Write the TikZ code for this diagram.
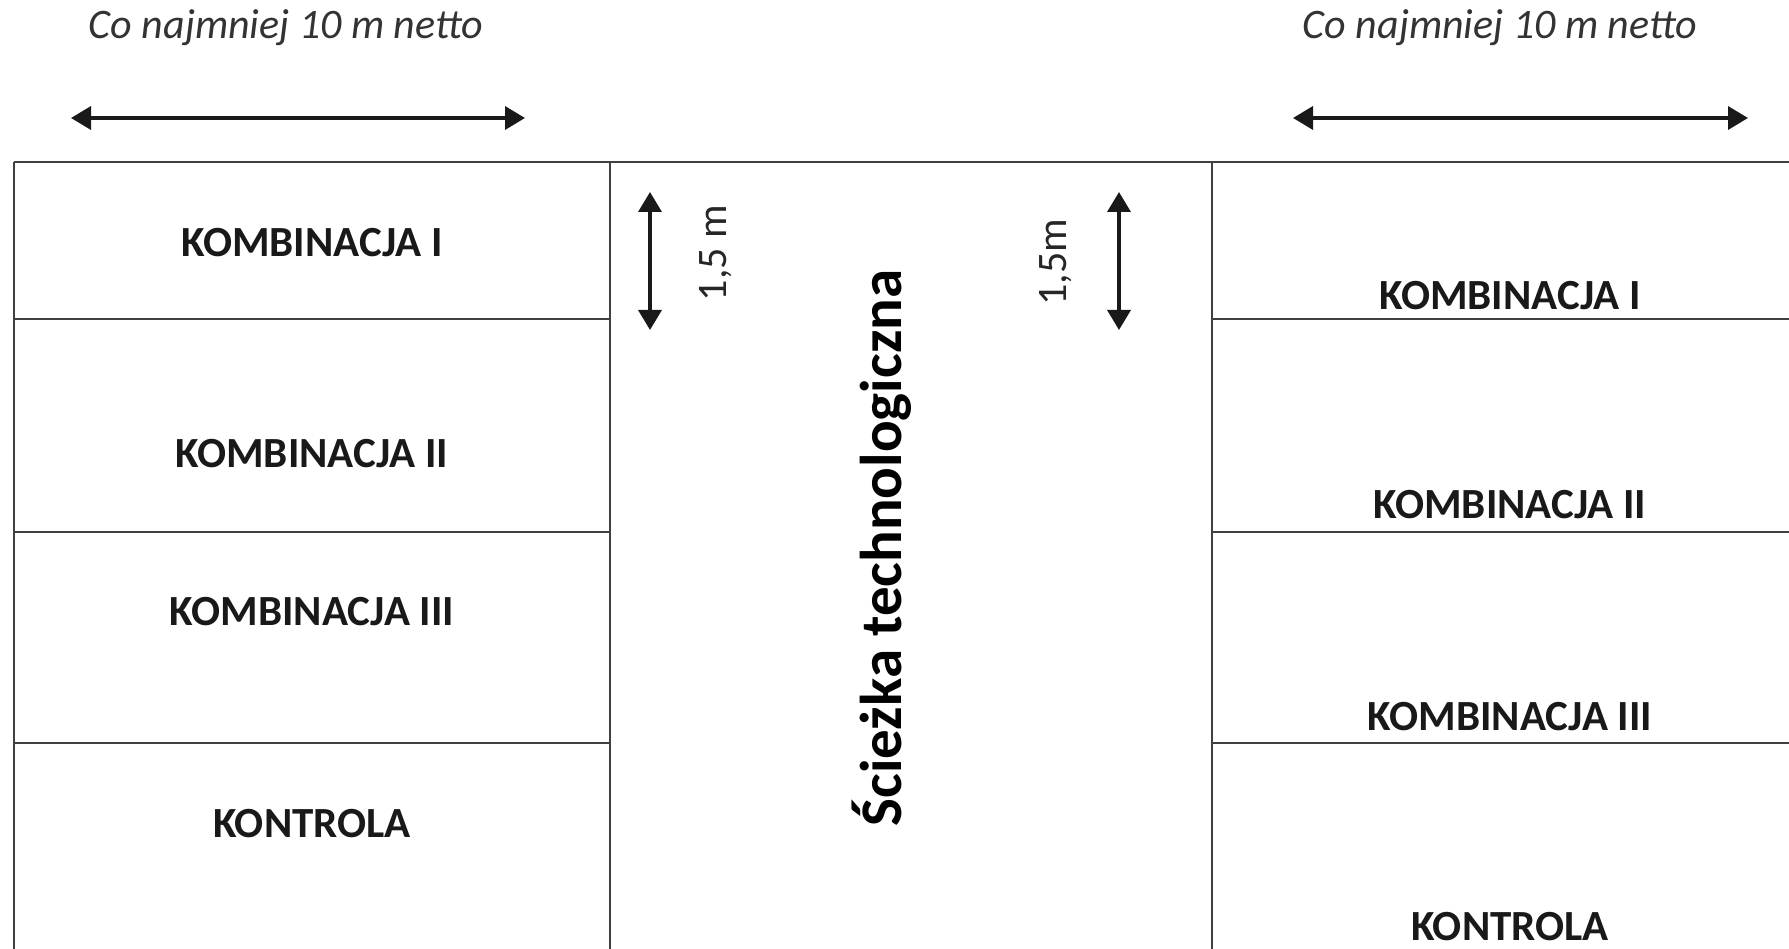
\documentclass[tikz,border=0pt]{standalone}
\usepackage{fontspec}
\setmainfont{Carlito}
\usetikzlibrary{arrows.meta}
\begin{document}
\begin{tikzpicture}[x=1pt,y=-1pt,
  grid/.style={line width=2pt, draw=black!75},
  dimarrow/.style={line width=3.5pt, draw=black!90, {Triangle[length=20pt,width=23pt]}-{Triangle[length=20pt,width=23pt]}},
  lab/.style={font=\fontsize{43}{48}\selectfont\bfseries, text=black!90, inner sep=0pt},
  note/.style={font=\fontsize{42}{48}\selectfont\itshape, text=black!80, inner sep=0pt},
  dimlab/.style={font=\fontsize{42}{48}\selectfont, text=black!85, inner sep=0pt, rotate=90},
  path/.style={font=\fontsize{59}{66}\selectfont\bfseries, text=black, inner sep=0pt, rotate=90}]
\useasboundingbox[fill=white] (0,0) rectangle (1789,949);
% grid
\draw[grid] (14,162) -- (1789,162);
\draw[grid] (14,162) -- (14,949);
\draw[grid] (610,162) -- (610,949);
\draw[grid] (1212,162) -- (1212,949);
\foreach \yy in {319,532,743} {
  \draw[grid] (14,\yy) -- (610,\yy);
  \draw[grid] (1212,\yy) -- (1789,\yy);
}
% top notes and arrows
\node[note] (nl) at (286,28) {Co najmniej 10 m netto};
\node[note] (nr) at (1500,28) {Co najmniej 10 m netto};
\coordinate (al1) at (71,118); \coordinate (al2) at (525,118);
\coordinate (ar1) at (1293,118); \coordinate (ar2) at (1748,118);
\draw[dimarrow] (al1) -- (al2);
\draw[dimarrow] (ar1) -- (ar2);
% vertical arrows
\coordinate (vl1) at (650,192); \coordinate (vl2) at (650,330);
\coordinate (vr1) at (1119,192); \coordinate (vr2) at (1119,330);
\draw[dimarrow] (vl1) -- (vl2);
\draw[dimarrow] (vr1) -- (vr2);
\node[dimlab] (dl) at (716,253) {1,5 m};
\node[dimlab] (dr) at (1056,262) {1,5m};
% path label
\node[path] (sc) at (882,548) {Ścieżka technologiczna};
% left labels
\node[lab] (l1) at (312,243) {KOMBINACJA I};
\node[lab] (l2) at (312,454) {KOMBINACJA II};
\node[lab] (l3) at (312,612) {KOMBINACJA III};
\node[lab] (l4) at (312,824) {KONTROLA};
% right labels
\node[lab] (r1) at (1510,296) {KOMBINACJA I};
\node[lab] (r2) at (1510,505) {KOMBINACJA II};
\node[lab] (r3) at (1510,717) {KOMBINACJA III};
\node[lab] (r4) at (1510,927) {KONTROLA};
\end{tikzpicture}
\end{document}
